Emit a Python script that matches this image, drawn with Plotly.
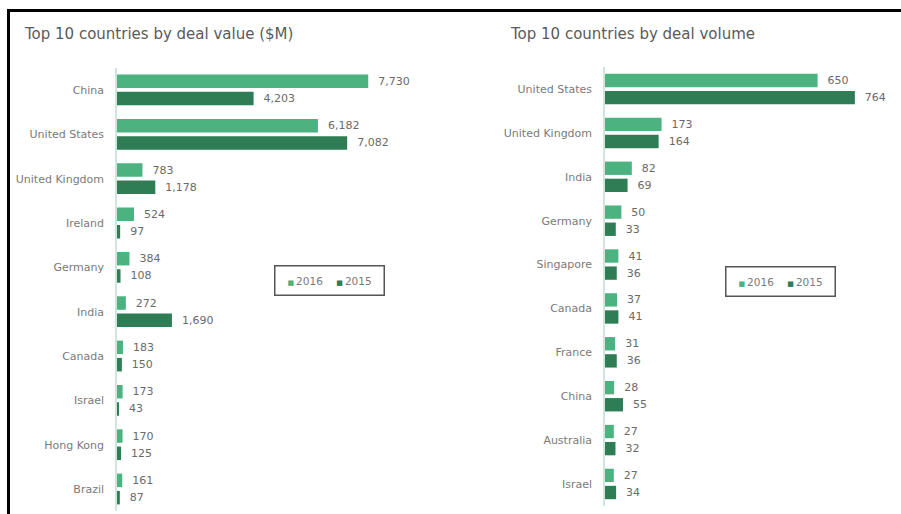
import plotly.graph_objects as go

# ---- data ----
value_countries = ["China", "United States", "United Kingdom", "Ireland", "Germany",
                   "India", "Canada", "Israel", "Hong Kong", "Brazil"]
value_2016 = [7730, 6182, 783, 524, 384, 272, 183, 173, 170, 161]
value_2015 = [4203, 7082, 1178, 97, 108, 1690, 150, 43, 125, 87]

volume_countries = ["United States", "United Kingdom", "India", "Germany", "Singapore",
                    "Canada", "France", "China", "Australia", "Israel"]
volume_2016 = [650, 173, 82, 50, 41, 37, 31, 28, 27, 27]
volume_2015 = [764, 164, 69, 33, 36, 41, 36, 55, 32, 34]

title_left = "Top 10 countries by deal value ($M)"
title_right = "Top 10 countries by deal volume"
series_names = ["2016", "2015"]

# ---- styles ----
C16 = "rgb(76,178,128)"
C15 = "rgb(46,125,85)"
TXT = "#6a6a6a"
TICK = "#7a7a7a"
FONT = "DejaVu Sans, Verdana, sans-serif"
NB = "\u00a0\u00a0"

fig = go.Figure()

def add_bars(cats, v16, v15, xa, ya):
    for name, vals, col in [(series_names[0], v16, C16), (series_names[1], v15, C15)]:
        fig.add_trace(go.Bar(
            y=cats, x=vals, orientation="h", name=name, marker_color=col,
            marker_line_width=0, xaxis=xa, yaxis=ya, showlegend=False,
            texttemplate=NB + "%{x:,}", textposition="outside", cliponaxis=False,
            textfont=dict(size=11, color=TXT, family=FONT), hoverinfo="x+y",
        ))

add_bars(value_countries, value_2016, value_2015, "x", "y")
add_bars(volume_countries, volume_2016, volume_2015, "x2", "y2")

W, H = 901, 514
def px(v): return v / W
def py(v): return 1 - v / H

axis_common = dict(showgrid=False, zeroline=False, showticklabels=False, fixedrange=True)
yax_common = dict(showgrid=False, zeroline=False, showline=True, linecolor="#cfe6da",
                  linewidth=1.5, ticks="outside", ticklen=9, tickcolor="rgba(0,0,0,0)",
                  tickfont=dict(size=11, color=TICK, family=FONT), autorange="reversed",
                  type="category")

SP = "\u00a0" * 4
legend_text = ("<span style='color:%s;font-size:7px'>■</span>\u2009%s%s"
               "<span style='color:%s;font-size:7px'>■</span>\u2009%s") % (
    C16, series_names[0], SP, C15, series_names[1])

def legend_box(cx, cy):
    return dict(text=legend_text, x=px(cx), y=py(cy), xref="paper", yref="paper",
                xanchor="center", yanchor="middle", showarrow=False,
                font=dict(size=10.5, color=TICK, family=FONT),
                bordercolor="#555555", borderwidth=1.5, borderpad=6, bgcolor="white",
                width=96, height=16)

fig.update_layout(
    width=W, height=H, margin=dict(l=0, r=0, t=0, b=0),
    paper_bgcolor="white", plot_bgcolor="white",
    barmode="group", bargap=0.22, bargroupgap=0.22,
    font=dict(family=FONT, color=TXT),
    showlegend=False,
    xaxis=dict(domain=[px(117), px(442)], range=[0, 10000], anchor="y", **axis_common),
    yaxis=dict(domain=[py(511.2), py(67.8)], anchor="x", **yax_common),
    xaxis2=dict(domain=[px(605), px(883)], range=[0, 850], anchor="y2", **axis_common),
    yaxis2=dict(domain=[py(505.9), py(67.1)], anchor="x2", **yax_common),
    annotations=[
        dict(text=title_left, x=px(22), y=py(34), xref="paper", yref="paper",
             xanchor="left", yanchor="middle", showarrow=False,
             font=dict(size=15, color="#5a5a5a", family=FONT)),
        dict(text=title_right, x=px(508), y=py(34), xref="paper", yref="paper",
             xanchor="left", yanchor="middle", showarrow=False,
             font=dict(size=15, color="#5a5a5a", family=FONT)),
        legend_box(329.5, 280),
        legend_box(780, 281.5),
    ],
    shapes=[
        dict(type="line", xref="paper", yref="paper", x0=px(7), x1=1, y0=py(10.5), y1=py(10.5),
             line=dict(color="black", width=3)),
        dict(type="line", xref="paper", yref="paper", x0=px(8.5), x1=px(8.5), y0=py(9), y1=0,
             line=dict(color="black", width=3)),
    ],
)

fig.write_html("out.html")
